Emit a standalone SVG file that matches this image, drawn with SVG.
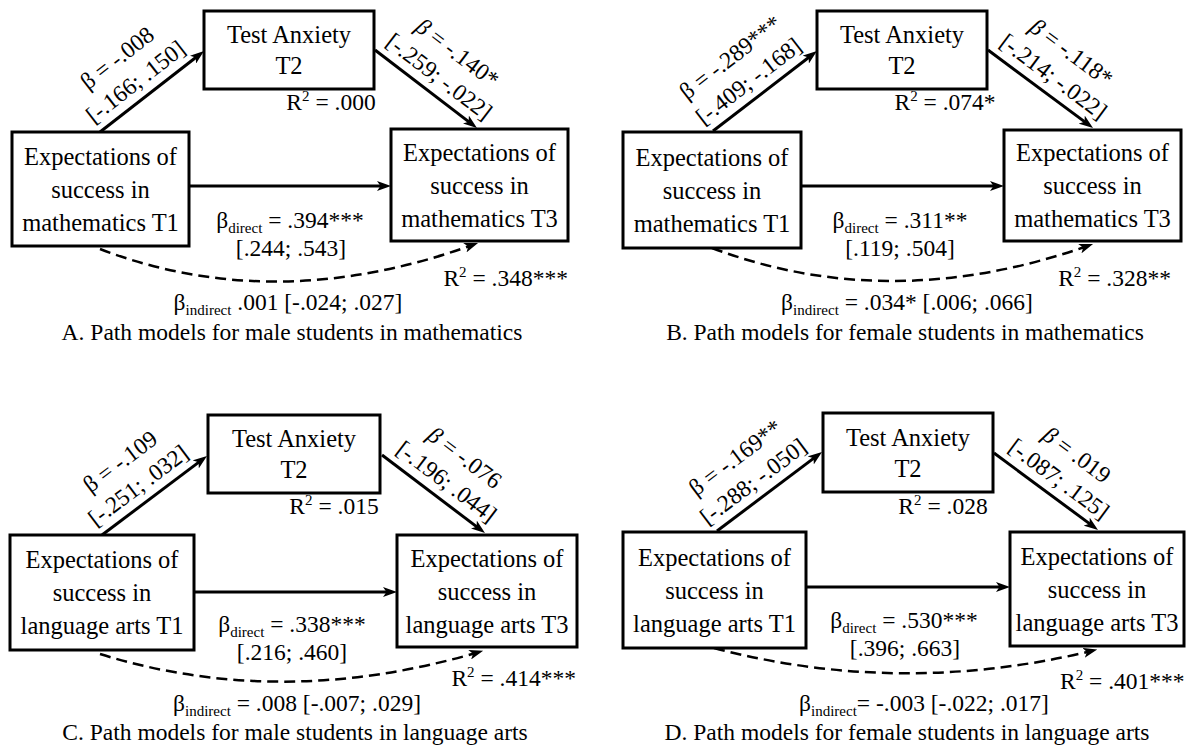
<svg xmlns="http://www.w3.org/2000/svg" width="1186" height="749" viewBox="0 0 1186 749">
  <defs>
    <marker id="ah" viewBox="0 0 14 10" refX="8" refY="5" markerWidth="14" markerHeight="10" markerUnits="userSpaceOnUse" orient="auto">
      <path d="M0,0 L14,5 L0,10 L3.5,5 Z" fill="#000"/>
    </marker>
  </defs>
  <style>
    text { font-family: "Liberation Serif", "Times New Roman", serif; font-size: 23.5px; fill: #000; }
    .node text { font-size: 24.5px; text-anchor: middle; }
    .c { text-anchor: middle; }
    .e { text-anchor: end; }
    .sub { font-size: 15px; }
    .sup { font-size: 15px; }
    .it { font-style: italic; }
    .cap { font-size: 23.5px; text-anchor: middle; }
    .box { fill: #fff; stroke: #000; stroke-width: 3; }
    .arr { fill: none; stroke: #000; stroke-width: 3; marker-end: url(#ah); }
    .dash { fill: none; stroke: #000; stroke-width: 2.5; stroke-dasharray: 11 6; marker-end: url(#ah); }
  </style>
  <rect width="1186" height="749" fill="#fff"/>

  <!-- connectors -->
  <g id="connectors">
    <!-- panel A -->
    <path class="arr" d="M100,132 L199.3,54.7"/>
    <path class="arr" d="M375,50 L472.2,124.4"/>
    <path class="arr" d="M189,186 L385,186"/>
    <path class="dash" d="M100,249 Q275,316 472.4,245"/>
    <!-- panel B -->
    <path class="arr" d="M713,131 L812.2,54.7"/>
    <path class="arr" d="M988,50 L1088.2,124.4"/>
    <path class="arr" d="M801,186 L998,186"/>
    <path class="dash" d="M712,248 Q890,315 1087.4,246"/>
    <!-- panel C -->
    <path class="arr" d="M102,535 L202.2,459.6"/>
    <path class="arr" d="M382,455 L480.2,529.4"/>
    <path class="arr" d="M194,592 L391,592"/>
    <path class="dash" d="M100,654 Q280,710 477.4,652.5"/>
    <!-- panel D -->
    <path class="arr" d="M717,531 L817.2,455.6"/>
    <path class="arr" d="M994,453 L1093.2,526.4"/>
    <path class="arr" d="M806,587 L1004,587"/>
    <path class="dash" d="M714,648 Q900,697 1091.4,651"/>
  </g>

  <!-- ===== Panel A ===== -->
  <g id="a-anx" class="node">
    <rect class="box" x="204" y="11" width="170" height="78"/>
    <text x="289" y="43">Test Anxiety</text>
    <text x="289" y="74">T2</text>
  </g>
  <g id="a-t1" class="node">
    <rect class="box" x="12" y="132" width="177" height="114"/>
    <text x="100.5" y="164.5">Expectations of</text>
    <text x="100.5" y="197.5">success in</text>
    <text x="100.5" y="230.5">mathematics T1</text>
  </g>
  <g id="a-t3" class="node">
    <rect class="box" x="391" y="129" width="177" height="112"/>
    <text x="479.5" y="160.5">Expectations of</text>
    <text x="479.5" y="193.5">success in</text>
    <text x="479.5" y="226.5">mathematics T3</text>
  </g>
  <g id="a-labels">
    <g transform="translate(152,91.5) rotate(-37.9)">
      <text class="c" x="-7" y="-10">[-.166; .150]</text>
      <text class="c" x="-7" y="-40">β = -.008</text>
    </g>
    <g transform="translate(426,89) rotate(37.4)">
      <text class="c" x="3" y="-10">[-.259; -.022]</text>
      <text class="c" x="3" y="-40"><tspan class="it">β</tspan> = -.140*</text>
    </g>
    <text class="c" x="331" y="110">R<tspan class="sup" dy="-9">2</tspan><tspan dy="9"> = .000</tspan></text>
    <text class="c" x="290" y="228">β<tspan class="sub" dy="5">direct</tspan><tspan dy="-5"> = .394***</tspan></text>
    <text class="c" x="291" y="256">[.244; .543]</text>
    <text class="e" x="568" y="286">R<tspan class="sup" dy="-9">2</tspan><tspan dy="9"> = .348***</tspan></text>
    <text class="c" x="288" y="310">β<tspan class="sub" dy="5">indirect</tspan><tspan dy="-5"> .001 [-.024; .027]</tspan></text>
    <text class="cap" x="292" y="340">A. Path models for male students in mathematics</text>
  </g>

  <!-- ===== Panel B ===== -->
  <g id="b-anx" class="node">
    <rect class="box" x="817" y="11" width="170" height="78"/>
    <text x="902" y="43">Test Anxiety</text>
    <text x="902" y="74">T2</text>
  </g>
  <g id="b-t1" class="node">
    <rect class="box" x="623" y="132" width="178" height="116"/>
    <text x="712" y="165.5">Expectations of</text>
    <text x="712" y="198.5">success in</text>
    <text x="712" y="231.5">mathematics T1</text>
  </g>
  <g id="b-t3" class="node">
    <rect class="box" x="1004" y="130" width="177" height="111"/>
    <text x="1092.5" y="161">Expectations of</text>
    <text x="1092.5" y="194">success in</text>
    <text x="1092.5" y="227">mathematics T3</text>
  </g>
  <g id="b-labels">
    <g transform="translate(765,91) rotate(-37.6)">
      <text class="c" x="-7" y="-10">[-.409; -.168]</text>
      <text class="c" x="-7" y="-40">β = -.289***</text>
    </g>
    <g transform="translate(1040.5,89) rotate(36.6)">
      <text class="c" x="3" y="-10">[-.214; -.022]</text>
      <text class="c" x="3" y="-40"><tspan class="it">β</tspan> = -.118*</text>
    </g>
    <text class="c" x="945" y="110">R<tspan class="sup" dy="-9">2</tspan><tspan dy="9"> = .074*</tspan></text>
    <text class="c" x="900" y="228">β<tspan class="sub" dy="5">direct</tspan><tspan dy="-5"> = .311**</tspan></text>
    <text class="c" x="900" y="256">[.119; .504]</text>
    <text class="e" x="1171" y="286">R<tspan class="sup" dy="-9">2</tspan><tspan dy="9"> = .328**</tspan></text>
    <text class="c" x="907" y="310">β<tspan class="sub" dy="5">indirect</tspan><tspan dy="-5"> = .034* [.006; .066]</tspan></text>
    <text class="cap" x="905" y="340">B. Path models for female students in mathematics</text>
  </g>

  <!-- ===== Panel C ===== -->
  <g id="c-anx" class="node">
    <rect class="box" x="208" y="415" width="172" height="78"/>
    <text x="294" y="447">Test Anxiety</text>
    <text x="294" y="478">T2</text>
  </g>
  <g id="c-t1" class="node">
    <rect class="box" x="10" y="535" width="184" height="115"/>
    <text x="102" y="568">Expectations of</text>
    <text x="102" y="601">success in</text>
    <text x="102" y="634">language arts T1</text>
  </g>
  <g id="c-t3" class="node">
    <rect class="box" x="397" y="535" width="180" height="112"/>
    <text x="487" y="566.5">Expectations of</text>
    <text x="487" y="599.5">success in</text>
    <text x="487" y="632.5">language arts T3</text>
  </g>
  <g id="c-labels">
    <g transform="translate(154.5,495.5) rotate(-37)">
      <text class="c" x="-7" y="-10">[-.251; .032]</text>
      <text class="c" x="-7" y="-40">β = -.109</text>
    </g>
    <g transform="translate(433.5,494) rotate(37.1)">
      <text class="c" x="3" y="-10">[-.196; .044]</text>
      <text class="c" x="3" y="-40"><tspan class="it">β</tspan> = -.076</text>
    </g>
    <text class="c" x="334" y="514">R<tspan class="sup" dy="-9">2</tspan><tspan dy="9"> = .015</tspan></text>
    <text class="c" x="292" y="632">β<tspan class="sub" dy="5">direct</tspan><tspan dy="-5"> = .338***</tspan></text>
    <text class="c" x="292" y="660">[.216; .460]</text>
    <text class="e" x="576" y="686">R<tspan class="sup" dy="-9">2</tspan><tspan dy="9"> = .414***</tspan></text>
    <text class="c" x="297" y="711">β<tspan class="sub" dy="5">indirect</tspan><tspan dy="-5"> = .008 [-.007; .029]</tspan></text>
    <text class="cap" x="295" y="740">C. Path models for male students in language arts</text>
  </g>

  <!-- ===== Panel D ===== -->
  <g id="d-anx" class="node">
    <rect class="box" x="823" y="413" width="170" height="79"/>
    <text x="908" y="445.5">Test Anxiety</text>
    <text x="908" y="476.5">T2</text>
  </g>
  <g id="d-t1" class="node">
    <rect class="box" x="623" y="532" width="183" height="116"/>
    <text x="714.5" y="565.5">Expectations of</text>
    <text x="714.5" y="598.5">success in</text>
    <text x="714.5" y="631.5">language arts T1</text>
  </g>
  <g id="d-t3" class="node">
    <rect class="box" x="1010" y="532" width="174" height="114"/>
    <text x="1097" y="564.5">Expectations of</text>
    <text x="1097" y="597.5">success in</text>
    <text x="1097" y="630.5">language arts T3</text>
  </g>
  <g id="d-labels">
    <g transform="translate(769.5,491.5) rotate(-37)">
      <text class="c" x="-7" y="-10">[-.288; -.050]</text>
      <text class="c" x="-7" y="-40">β = -.169**</text>
    </g>
    <g transform="translate(1046,491.5) rotate(36.5)">
      <text class="c" x="3" y="-10">[-.087; .125]</text>
      <text class="c" x="3" y="-40"><tspan class="it">β</tspan> = .019</text>
    </g>
    <text class="c" x="943" y="514">R<tspan class="sup" dy="-9">2</tspan><tspan dy="9"> = .028</tspan></text>
    <text class="c" x="904" y="628">β<tspan class="sub" dy="5">direct</tspan><tspan dy="-5"> = .530***</tspan></text>
    <text class="c" x="905" y="656">[.396; .663]</text>
    <text x="1060" y="689">R<tspan class="sup" dy="-9">2</tspan><tspan dy="9"> = .401***</tspan></text>
    <text class="c" x="924" y="711">β<tspan class="sub" dy="5">indirect</tspan><tspan dy="-5">= -.003 [-.022; .017]</tspan></text>
    <text class="cap" x="907" y="740">D. Path models for female students in language arts</text>
  </g>
</svg>
